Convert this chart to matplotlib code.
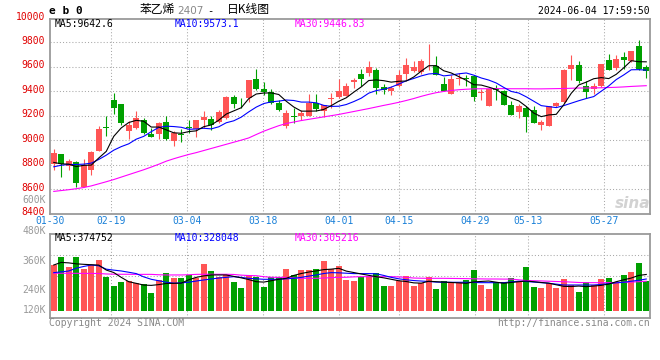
import numpy as np
import matplotlib
matplotlib.use("Agg")
import matplotlib.pyplot as plt
import matplotlib.transforms as mtransforms

# ---------------- data ----------------
opens = [8803, 8885, 8790, 8825, 8620, 8762, 8917, 9108, 9333, 9298,
         9075, 9102, 9167, 9056, 9056, 9151, 8999, 9053, 9105, 9094,
         9170, 9176, 9148, 9184, 9355, 9322, 9347, 9502, 9423, 9396,
         9306, 9115, 9200, 9200, 9200, 9305, 9237, 9337, 9357, 9365,
         9476, 9543, 9548, 9577, 9439, 9406, 9445, 9543, 9567, 9556,
         9645, 9605, 9461, 9380, 9500, 9510, 9529, 9385, 9279, 9418,
         9407, 9287, 9233, 9265, 9252, 9129, 9121, 9279, 9312, 9586,
         9614, 9442, 9420, 9442, 9654, 9592, 9682, 9652, 9774, 9597]
highs = [8931, 8890, 8844, 8830, 8850, 8917, 9116, 9197, 9388, 9300,
         9156, 9238, 9184, 9102, 9151, 9197, 9075, 9094, 9170, 9170,
         9238, 9197, 9252, 9366, 9369, 9347, 9497, 9586, 9475, 9423,
         9333, 9245, 9262, 9250, 9375, 9383, 9290, 9388, 9500, 9468,
         9508, 9584, 9652, 9590, 9464, 9445, 9577, 9677, 9648, 9665,
         9788, 9687, 9516, 9537, 9551, 9537, 9537, 9423, 9420, 9456,
         9415, 9320, 9298, 9279, 9279, 9170, 9279, 9314, 9580, 9701,
         9652, 9483, 9469, 9625, 9706, 9695, 9722, 9733, 9823, 9619]
lows = [8762, 8700, 8754, 8620, 8620, 8720, 8910, 9034, 9216, 9124,
        9015, 9097, 9053, 9026, 9015, 9007, 8958, 8988, 9061, 9026,
        9102, 9088, 9143, 9178, 9265, 9265, 9314, 9415, 9369, 9301,
        9244, 9098, 9140, 9167, 9197, 9240, 9189, 9262, 9350, 9362,
        9428, 9445, 9528, 9383, 9380, 9370, 9435, 9495, 9560, 9545,
        9578, 9532, 9401, 9380, 9456, 9442, 9325, 9333, 9279, 9333,
        9287, 9205, 9184, 9069, 9138, 9088, 9121, 9271, 9306, 9497,
        9469, 9347, 9380, 9434, 9573, 9578, 9586, 9638, 9578, 9510]
closes = [8898, 8803, 8830, 8648, 8800, 8907, 9094, 9100, 9265, 9143,
          9129, 9184, 9061, 9029, 9143, 9015, 9061, 9040, 9102, 9170,
          9189, 9129, 9233, 9355, 9301, 9318, 9497, 9423, 9396, 9306,
          9252, 9222, 9190, 9226, 9303, 9258, 9287, 9344, 9406, 9444,
          9490, 9502, 9603, 9432, 9412, 9431, 9535, 9616, 9597, 9652,
          9652, 9537, 9407, 9505, 9505, 9503, 9355, 9390, 9420, 9412,
          9293, 9211, 9279, 9189, 9143, 9148, 9279, 9306, 9578, 9614,
          9488, 9396, 9442, 9625, 9573, 9665, 9660, 9733, 9586, 9570]

ma5 = [8820, 8808, 8806, 8786, 8796, 8798, 8856, 8910, 9033, 9102,
       9146, 9164, 9156, 9109, 9109, 9086, 9062, 9058, 9072, 9078,
       9112, 9126, 9165, 9215, 9241, 9267, 9341, 9379, 9387, 9388,
       9375, 9320, 9273, 9239, 9239, 9240, 9253, 9284, 9320, 9348,
       9394, 9437, 9489, 9494, 9488, 9476, 9483, 9485, 9518, 9566,
       9610, 9611, 9569, 9551, 9521, 9491, 9455, 9452, 9435, 9416,
       9374, 9345, 9323, 9277, 9223, 9194, 9208, 9213, 9291, 9385,
       9453, 9476, 9504, 9513, 9505, 9540, 9593, 9651, 9643, 9642]
ma10 = [8784, 8797, 8803, 8803, 8806, 8814, 8844, 8879, 8920, 8949,
        8972, 9010, 9033, 9071, 9106, 9116, 9113, 9107, 9091, 9093,
        9099, 9094, 9111, 9144, 9160, 9190, 9233, 9272, 9301, 9315,
        9321, 9330, 9326, 9313, 9313, 9307, 9286, 9278, 9279, 9293,
        9317, 9345, 9386, 9407, 9418, 9435, 9460, 9487, 9506, 9527,
        9543, 9547, 9527, 9534, 9544, 9551, 9533, 9510, 9493, 9469,
        9433, 9400, 9387, 9356, 9320, 9284, 9276, 9268, 9284, 9304,
        9324, 9342, 9358, 9402, 9445, 9497, 9535, 9577, 9578, 9574]
ma30 = [8583, 8590, 8597, 8605, 8615, 8628, 8645, 8662, 8680, 8700,
        8720, 8740, 8760, 8782, 8805, 8830, 8850, 8868, 8885, 8900,
        8917, 8934, 8951, 8968, 8985, 9002, 9020, 9048, 9075, 9098,
        9120, 9138, 9150, 9162, 9172, 9182, 9192, 9202, 9212, 9224,
        9236, 9248, 9260, 9273, 9286, 9298, 9311, 9326, 9342, 9360,
        9376, 9390, 9400, 9408, 9414, 9418, 9421, 9422, 9422, 9423,
        9423, 9422, 9422, 9422, 9421, 9421, 9422, 9423, 9424, 9426,
        9428, 9428, 9429, 9430, 9432, 9434, 9437, 9441, 9444, 9447]

# volume, thousands of lots
volume = [473, 559, 449, 559, 432, 473, 525, 352, 256, 297,
          307, 290, 276, 187, 318, 394, 342, 342, 370, 342,
          487, 411, 352, 370, 300, 238, 370, 345, 249, 352,
          345, 432, 370, 421, 421, 432, 514, 428, 463, 318,
          307, 345, 359, 387, 256, 256, 307, 359, 256, 290,
          345, 225, 307, 297, 283, 318, 421, 266, 225, 294,
          294, 342, 307, 456, 245, 235, 283, 238, 328, 266,
          197, 297, 266, 328, 342, 283, 370, 404, 497, 311]
vol_ma5 = [473, 500, 495, 485, 480, 476, 472, 421, 395, 345,
           300, 283, 265, 262, 270, 282, 283, 285, 320, 345,
           360, 370, 370, 370, 355, 340, 322, 300, 296, 310,
           325, 335, 365, 385, 400, 412, 425, 430, 439, 410,
           395, 380, 366, 352, 340, 325, 310, 302, 288, 285,
           305, 300, 296, 292, 288, 283, 298, 303, 307, 295,
           284, 292, 300, 307, 300, 292, 285, 268, 252, 250,
           255, 249, 255, 262, 275, 300, 320, 338, 365, 375]
vol_ma10 = [394, 402, 411, 440, 458, 473, 465, 430, 420, 411,
            398, 384, 350, 325, 310, 295, 285, 288, 295, 307,
            318, 328, 338, 345, 352, 345, 335, 330, 325, 325,
            325, 330, 335, 345, 358, 370, 385, 394, 392, 388,
            384, 384, 384, 382, 365, 345, 330, 320, 312, 307,
            302, 296, 294, 294, 294, 294, 292, 290, 290, 290,
            290, 298, 305, 302, 296, 290, 284, 275, 266, 266,
            266, 266, 266, 272, 280, 288, 294, 305, 315, 328]
vol_ma30 = [388, 388, 387, 387, 386, 386, 385, 380, 378, 377,
            377, 376, 376, 376, 372, 370, 370, 370, 372, 376,
            377, 377, 377, 377, 375, 368, 364, 362, 352, 346,
            345, 345, 338, 336, 335, 335, 338, 342, 345, 346,
            350, 352, 352, 352, 352, 352, 350, 345, 338, 336,
            335, 335, 335, 334, 333, 332, 330, 329, 328, 328,
            327, 327, 320, 312, 310, 308, 305, 302, 300, 296,
            292, 290, 290, 290, 290, 292, 294, 296, 300, 305]

date_idx = [0, 8, 18, 28, 38, 46, 56, 63, 73]
date_lbl = ["01-30", "02-19", "03-04", "03-18", "04-01", "04-15", "04-29", "05-13", "05-27"]
price_ticks = [8400, 8600, 8800, 9000, 9200, 9400, 9600, 9800, 10000]
vol_lbl = ["480K", "360K", "240K", "120K"]
ma_txt = ["MA5:9642.6", "MA10:9573.1", "MA30:9446.83"]
vol_ma_txt = ["MA5:374752", "MA10:328048", "MA30:305216"]

# ---------------- layout helpers ----------------
W, H = 660, 360
MONO = "DejaVu Sans Mono"
CJK = ["Noto Sans CJK SC", "DejaVu Sans"]
UP, DOWN = "#ff5555", "#00a000"
LINE_COLS = ["black", "#0000ff", "#ff00ff"]
GRID = dict(color="#a8a8a8", lw=0.75, ls=(0, (1, 2)), zorder=0)


def fx(x):
    return x / W


def fy(y):
    return 1 - y / H


def ptext(x, y, s, **kw):
    # text placed in pixel coords of the 660x360 image
    kw.setdefault("family", MONO)
    kw.setdefault("fontsize", 7)
    kw.setdefault("va", "center")
    fig.text(fx(x), fy(y), s, **kw)


o = np.array(opens)
c = np.array(closes)
n = len(o)
xs = np.arange(n)
cols = np.where(c >= o, UP, DOWN)
grid_x = -0.5 + np.array(date_idx) * n / (n - 1)

fig = plt.figure(figsize=(6.6, 3.6), dpi=100)
fig.patch.set_facecolor("white")

ax = fig.add_axes([fx(50), fy(213.8), 600 / W, (213.8 - 19) / H])
axv = fig.add_axes([fx(50), fy(318.3), 600 / W, 84 / H])

for a in (ax, axv):
    a.set_xlim(-0.5, n - 0.5)
    a.set_xticks([])
    a.set_yticks([])
    for sp in a.spines.values():
        sp.set_color("#9a9a9a")
        sp.set_linewidth(1.3)
    for gx in grid_x[1:]:
        a.axvline(gx, **GRID)

## price panel ##
ax.set_ylim(8400, 9992)
for p in price_ticks[1:-1]:
    ax.axhline(p, **GRID)
ax.vlines(xs, lows, highs, colors=cols, lw=0.8, zorder=2)
ax.bar(xs, np.maximum(np.abs(c - o), 7), bottom=np.minimum(o, c),
       width=0.75, color=cols, linewidth=0, zorder=3)
for ser, col in zip([ma30, ma10, ma5], LINE_COLS[::-1]):
    ax.plot(xs, ser, color=col, lw=0.8, zorder=4)

tr = mtransforms.blended_transform_factory(ax.transAxes, ax.transData)
for p in price_ticks:
    ax.text(-0.008, p + 12, str(p), transform=tr, ha="right", va="center",
            color="#e00000", family=MONO, fontsize=7, clip_on=False)

## volume panel ##
axv.set_ylim(-79, 791)
lo, hi = axv.get_ylim()
for f in (0.25, 0.5, 0.75):
    axv.axhline(lo + f * (hi - lo), **GRID)
axv.bar(xs, volume, width=0.8, color=cols, linewidth=0, zorder=2)
for ser, col in zip([vol_ma30, vol_ma10, vol_ma5], LINE_COLS[::-1]):
    axv.plot(xs, ser, color=col, lw=0.8, zorder=4)

## texts ##
ptext(49, 11, "e b 0", fontsize=8, weight="bold")
ptext(140, 10, "苯乙烯", family=CJK, fontsize=8.5)
ptext(177, 11, "2407", family="DejaVu Sans", fontsize=7.5, color="#888888")
ptext(207, 11, "-", fontsize=7.5)
ptext(227, 10, "日K线图", family=CJK, fontsize=8.5)
ptext(650, 11.5, "2024-06-04 17:59:50", ha="right")

for xx, s, col in zip([55, 175, 295], ma_txt, LINE_COLS):
    ptext(xx, 23.7, s, color=col)
for xx, s, col in zip([55, 175, 295], vol_ma_txt, LINE_COLS):
    ptext(xx, 238.3, s, color=col)

for k, lbl in zip(date_idx, date_lbl):
    ptext(50 + k * 600 / (n - 1), 220.8, lbl, ha="center", color="#1a80d8")

ptext(46, 200, "600K", ha="right", color="#999999")
for yy, lbl in zip([231, 261, 290, 310], vol_lbl):
    ptext(46, yy, lbl, ha="right", color="#999999")

ptext(49, 323.3, "Copyright 2024 SINA.COM", color="#888888")
ptext(650, 323.3, "http://finance.sina.com.cn", ha="right", color="#888888")

# sina watermark
ptext(633, 203, "sina", family="DejaVu Sans", fontsize=11, style="italic",
      weight="bold", color="#d2d2d2", ha="center")

fig.savefig("out.png", dpi=100, facecolor="white")
